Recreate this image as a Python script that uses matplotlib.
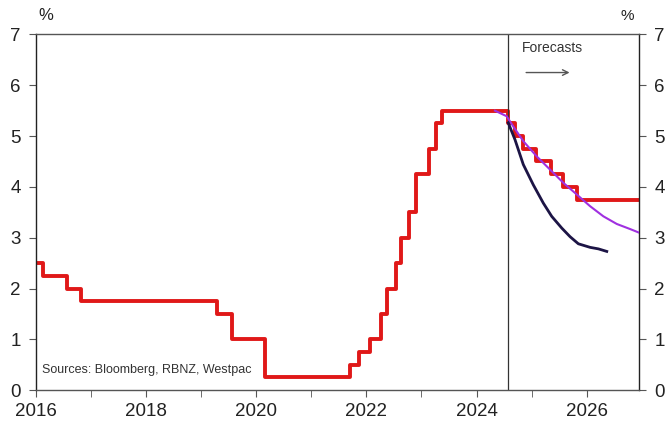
import matplotlib
matplotlib.use("Agg")
import matplotlib.pyplot as plt
from matplotlib.ticker import MultipleLocator

plt.rcParams['font.family'] = ['Liberation Sans', 'DejaVu Sans']

# Official Cash Rate decisions (decimal year, rate %), incl. forecast track
ocr_dates = [2016.0, 2016.13, 2016.57, 2016.81, 2019.29, 2019.55, 2020.15,
             2021.70, 2021.86, 2022.07, 2022.27, 2022.37, 2022.53, 2022.62,
             2022.78, 2022.90, 2023.13, 2023.27, 2023.38,
             2024.57, 2024.70, 2024.84, 2025.08, 2025.35, 2025.57, 2025.82, 2027.0]
ocr_rates = [2.50, 2.25, 2.00, 1.75, 1.50, 1.00, 0.25,
             0.50, 0.75, 1.00, 1.50, 2.00, 2.50, 3.00,
             3.50, 4.25, 4.75, 5.25, 5.50,
             5.25, 5.00, 4.75, 4.50, 4.25, 4.00, 3.75, 3.75]

# Market pricing
mkt_dates = [2024.576, 2024.698, 2024.849, 2025.031, 2025.213, 2025.365,
             2025.547, 2025.698, 2025.849, 2026.062, 2026.213, 2026.365]
mkt_rates = [5.26, 4.93, 4.44, 4.04, 3.68, 3.42, 3.19, 3.02, 2.88, 2.81, 2.78, 2.73]

# RBNZ projection
rbnz_dates = [2024.334, 2024.547, 2024.667, 2024.849, 2025.093, 2025.335, 2025.576,
              2025.820, 2026.062, 2026.304, 2026.547, 2026.789, 2026.95]
rbnz_rates = [5.50, 5.39, 5.19, 4.90, 4.60, 4.34, 4.08,
              3.85, 3.62, 3.42, 3.27, 3.17, 3.10]

forecast_start = 2024.58
years = list(range(2016, 2027, 2))

fig = plt.figure(figsize=(6.67, 4.25), dpi=100)
ax = fig.add_axes([0.054, 0.082, 0.904, 0.837])

ax.plot(rbnz_dates, rbnz_rates, color='#a030e0', lw=1.5, zorder=3)
ax.plot(mkt_dates, mkt_rates, color='#1c1445', lw=2.0, zorder=3)
ax.plot(ocr_dates, ocr_rates, color='#e01818', lw=2.8, drawstyle='steps-post', zorder=2)

ax.axvline(forecast_start, color='#333333', lw=0.9)

ax.set_xlim(2016, 2026.95)
ax.set_ylim(0, 7)
ax.set_xticks(years)
ax.set_xticklabels([str(y) for y in years])
ax.xaxis.set_minor_locator(MultipleLocator(1))
ax.yaxis.set_major_locator(MultipleLocator(1))

ax.tick_params(axis='both', which='both', direction='out', color='#555555',
               labelsize=13.5, labelcolor='#222222')
ax.tick_params(axis='y', length=5, right=True, labelright=True, pad=6)
ax.tick_params(axis='x', which='major', length=5, pad=4)
ax.tick_params(axis='x', which='minor', length=5)
for side in ['left', 'right', 'top', 'bottom']:
    ax.spines[side].set_color('#555555')
    ax.spines[side].set_linewidth(1.0)
ax.spines['left'].set_color('#222222')
ax.spines['right'].set_color('#222222')

fig.text(0.057, 0.945, '%', fontsize=12, color='#222222', ha='left', va='bottom')
fig.text(0.94, 0.945, '%', fontsize=11, color='#222222', ha='center', va='bottom')

ax.text(2024.83, 6.74, 'Forecasts', fontsize=10, color='#333333', va='center')
ax.annotate('', xy=(2025.74, 6.25), xytext=(2024.85, 6.25),
            arrowprops=dict(arrowstyle='->', color='#555555', lw=1.0))

ax.text(2016.1, 0.33, 'Sources: Bloomberg, RBNZ, Westpac', fontsize=9, color='#333333')

fig.savefig('out.png', dpi=100)
